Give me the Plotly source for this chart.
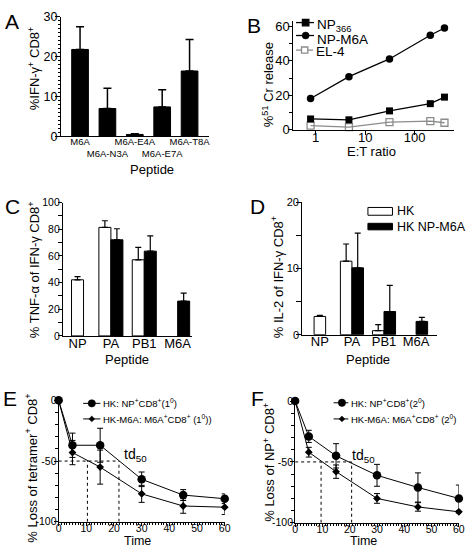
import plotly.graph_objects as go

W, H = 474, 558
FONT = "Liberation Sans, Arial, sans-serif"

# ---------------- data ----------------
A_peptides = ["M6A", "M6A-N3A", "M6A-E4A", "M6A-E7A", "M6A-T8A"]
A_ticktext = ["M6A", "<br>M6A-N3A", "M6A-E4A", "<br>M6A-E7A", "M6A-T8A"]
A_ifn = [21.8, 7.0, 0.5, 7.4, 16.4]
A_err = [5.7, 5.1, 0.2, 4.3, 7.9]

B_et = [0.79, 4.7, 31, 207, 400]
B_np366 = [6.2, 5.7, 10.9, 15.1, 18.9]
B_npm6a = [18.1, 30.8, 41.1, 54.9, 59.1]
B_el4 = [2.3, 1.5, 4.3, 4.9, 4.0]

C_peptides = ["NP", "PA", "PB1", "M6A"]
C_hk = [42.1, 81.4, 57.1, None]
C_hk_err = [2.4, 5.0, 9.3, None]
C_m6a = [None, 72.1, 63.6, 26.1]
C_m6a_err = [None, 8.3, 11.4, 6.0]

D_peptides = ["NP", "PA", "PB1", "M6A"]
D_hk = [2.75, 11.1, 0.6, None]
D_hk_err = [0.15, 2.6, 0.9, None]
D_m6a = [None, 10.1, 3.5, 2.0]
D_m6a_err = [None, 5.25, 3.95, 0.6]

E_time = [0, 5, 15, 30, 45, 60]
E_hk = [0, -37, -37, -65, -78, -81]
E_hk_err = [0, 10, 14, 6, 4.5, 4]
E_m6a = [0, -43, -55, -77, -87, -88]
E_m6a_err = [0, 10, 14, 7, 6, 6]
E_td50 = [10.4, 21.8]

F_time = [0, 5, 15, 30, 45, 60]
F_hk = [0, -29, -45, -61, -71, -80]
F_hk_err = [0, 5, 10, 9, 12, 11]
F_m6a = [0, -42, -58, -80, -87, -91]
F_m6a_err = [0, 4, 5.5, 4, 3.5, 1]
F_td50 = [9.5, 20.7]

HALF = -50

# ---------------- helpers ----------------
def xd(a, b):
    return [a / W, b / W]

def yd(top, bot):
    return [1 - bot / H, 1 - top / H]

def px(x):
    return x / W

def py(y):
    return 1 - y / H

fig = go.Figure()

# ---- Panel A ----
fig.add_trace(go.Bar(
    x=A_peptides, y=A_ifn, width=0.61, marker=dict(color="black", line=dict(color="black", width=1)),
    error_y=dict(type="data", array=A_err, arrayminus=[0] * len(A_err), symmetric=False,
                 color="black", thickness=1.5, width=4),
    xaxis="x", yaxis="y", showlegend=False))

# ---- Panel B ----
line_common = dict(mode="lines+markers", xaxis="x2", yaxis="y2", showlegend=False, cliponaxis=False)
fig.add_trace(go.Scatter(x=B_et, y=B_el4, line=dict(color="#8c8c8c", width=1.3),
                         marker=dict(symbol="square-open", size=7, color="#8c8c8c", line=dict(width=1.3)),
                         **line_common))
fig.add_trace(go.Scatter(x=B_et, y=B_np366, line=dict(color="black", width=1.3),
                         marker=dict(symbol="square", size=7, color="black"), **line_common))
fig.add_trace(go.Scatter(x=B_et, y=B_npm6a, line=dict(color="black", width=1.3),
                         marker=dict(symbol="circle", size=7.5, color="black"), **line_common))

# ---- Panels C & D (grouped bars) ----
def grouped(xax, yax, cats, hk, hk_err, m6a, m6a_err):
    hk_off = [-0.18 if v is not None and m is None else -0.36 for v, m in zip(hk, m6a)]
    fig.add_trace(go.Bar(
        x=cats, y=hk, width=0.36, offset=hk_off,
        marker=dict(color="white", line=dict(color="black", width=1)),
        error_y=dict(type="data", array=hk_err, arrayminus=[0] * len(cats), symmetric=False,
                     color="black", thickness=1.2, width=3),
        xaxis=xax, yaxis=yax, showlegend=False))
    fig.add_trace(go.Bar(
        x=cats, y=m6a, width=0.36, offset=0,
        marker=dict(color="black", line=dict(color="black", width=1)),
        error_y=dict(type="data", array=m6a_err, arrayminus=[0] * len(cats), symmetric=False,
                     color="black", thickness=1.2, width=3),
        xaxis=xax, yaxis=yax, showlegend=False))

grouped("x3", "y3", C_peptides, C_hk, C_hk_err, C_m6a, C_m6a_err)
grouped("x4", "y4", D_peptides, D_hk, D_hk_err, D_m6a, D_m6a_err)

# ---- Panels E & F (time courses) ----
def decay(xax, yax, t, hk, hk_err, m6a, m6a_err, td):
    fig.add_trace(go.Scatter(x=[0, max(td)], y=[HALF, HALF], mode="lines",
                             line=dict(color="black", width=1, dash="dot"),
                             xaxis=xax, yaxis=yax, showlegend=False, hoverinfo="skip"))
    for v in td:
        fig.add_trace(go.Scatter(x=[v, v], y=[-100, HALF], mode="lines",
                                 line=dict(color="black", width=1, dash="dot"),
                                 xaxis=xax, yaxis=yax, showlegend=False, hoverinfo="skip"))
    fig.add_trace(go.Scatter(x=t, y=m6a, mode="lines+markers",
                             line=dict(color="black", width=1),
                             marker=dict(symbol="diamond", size=6, color="black"),
                             error_y=dict(type="data", array=m6a_err, color="black", thickness=1, width=3),
                             xaxis=xax, yaxis=yax, showlegend=False, cliponaxis=False))
    fig.add_trace(go.Scatter(x=t, y=hk, mode="lines+markers",
                             line=dict(color="black", width=1),
                             marker=dict(symbol="circle", size=8.5, color="black"),
                             error_y=dict(type="data", array=hk_err, color="black", thickness=1, width=3),
                             xaxis=xax, yaxis=yax, showlegend=False, cliponaxis=False))

decay("x5", "y5", E_time, E_hk, E_hk_err, E_m6a, E_m6a_err, E_td50)
decay("x6", "y6", F_time, F_hk, F_hk_err, F_m6a, F_m6a_err, F_td50)

# ---------------- axes ----------------
base = dict(showline=True, linecolor="black", linewidth=1, showgrid=False, zeroline=False,
            ticks="outside", tickcolor="black", tickwidth=1, ticklen=4,
            tickfont=dict(family=FONT, color="black"))

def ax(**kw):
    d = dict(base)
    d.update(kw)
    return d

def tf(size):
    return dict(family=FONT, size=size, color="black")

layout = dict(
    width=W, height=H, margin=dict(l=0, r=0, t=0, b=0),
    paper_bgcolor="white", plot_bgcolor="white",
    font=dict(family=FONT, color="black"),
    barmode="overlay", showlegend=False,
    # A
    xaxis=ax(domain=xd(59, 210), anchor="y", range=[-0.7, 4.71], ticks="", tickangle=0,
             tickvals=A_peptides, ticktext=A_ticktext, tickfont=tf(9.5), ticklabelstandoff=-4),
    yaxis=ax(domain=yd(10, 133), anchor="x", range=[0, 30], tickvals=[0, 10, 20, 30], ticklen=5,
             tickfont=tf(12.5), ticklabelstandoff=-5,
             minor=dict(dtick=1, ticks="outside", ticklen=2, tickcolor="black")),
    # B
    xaxis2=ax(domain=xd(296, 460), anchor="y2", type="log", range=[-0.45, 2.8],
              tickvals=[1, 10, 100], ticktext=["1", "10", "100"], tickfont=tf(13), ticklabelstandoff=-8),
    yaxis2=ax(domain=yd(14, 126), anchor="x2", range=[0, 63.4], tickvals=[0, 20, 40, 60],
              tickfont=tf(13), ticklabelstandoff=-4,
              minor=dict(dtick=10, ticks="outside", ticklen=3, tickcolor="black")),
    # C
    xaxis3=ax(domain=xd(61, 193), anchor="y3", range=[-0.44, 3.44], ticks="", tickangle=0,
              tickfont=tf(13), ticklabelstandoff=-5),
    yaxis3=ax(domain=yd(201, 338), anchor="x3", range=[0, 100], tickvals=[0, 20, 40, 60, 80, 100],
              tickfont=tf(10.5), ticklabelstandoff=-4,
              minor=dict(dtick=10, ticks="outside", ticklen=4, tickcolor="black")),
    # D
    xaxis4=ax(domain=xd(305, 442), anchor="y4", range=[-0.55, 3.64], ticks="", tickangle=0,
              tickfont=tf(13), ticklabelstandoff=-5),
    yaxis4=ax(domain=yd(200.7, 336.7), anchor="x4", range=[0, 20], tickvals=[0, 10, 20], ticklen=5,
              tickfont=tf(11), ticklabelstandoff=-5,
              minor=dict(dtick=5, ticks="outside", ticklen=5, tickcolor="black")),
    # E
    xaxis5=ax(domain=xd(56.7, 226), anchor="y5", range=[0, 60], tickvals=list(range(0, 61, 10)),
              ticklen=3, tickfont=tf(10.5), ticklabelstandoff=-6, tickangle=0,
              minor=dict(dtick=1, ticks="outside", ticklen=2, tickcolor="black")),
    yaxis5=ax(domain=yd(404.2, 529), anchor="x5", range=[-100, 0], tickvals=[-100, -50, 0],
              ticktext=["-100", "-50", "0"], tickfont=tf(10.5), ticklabelstandoff=-5,
              minor=dict(dtick=10, ticks="outside", ticklen=3, tickcolor="black")),
    # F
    xaxis6=ax(domain=xd(297.8, 464.7), anchor="y6", range=[0, 60], tickvals=list(range(0, 61, 10)),
              ticklen=3, tickfont=tf(10.5), ticklabelstandoff=-6, tickangle=0,
              minor=dict(dtick=1, ticks="outside", ticklen=2, tickcolor="black")),
    yaxis6=ax(domain=yd(405, 530), anchor="x6", range=[-100, 0], tickvals=[-100, -50, 0],
              ticktext=["-100", "-50", "0"], tickfont=tf(10.5), ticklabelstandoff=-5,
              minor=dict(dtick=10, ticks="outside", ticklen=3, tickcolor="black")),
)
fig.update_layout(**layout)

# ---------------- text ----------------
ann = []

def text(x, y, s, size=13, angle=0, xanchor="center", yanchor="middle"):
    ann.append(dict(x=px(x), y=py(y), xref="paper", yref="paper", text=s, showarrow=False,
                    textangle=angle, xanchor=xanchor, yanchor=yanchor,
                    font=dict(family=FONT, size=size, color="black")))

for lab, x, y in [("A", 9.5, 15), ("B", 255.5, 18.5), ("C", 9.5, 205),
                  ("D", 259.5, 205.5), ("E", 7.5, 402.5), ("F", 259, 402.5)]:
    text(x, y, lab, size=21)

text(31, 62.5, "%IFN-γ<sup>+</sup> CD8<sup>+</sup>", 13, -90)
text(152, 167, "Peptide", 13)
text(269.5, 80, "%<sup>51</sup> Cr release", 13, -90)
text(376, 149, "E:T ratio", 13)
text(31, 270, "% TNF-α of IFN-γ CD8<sup>+</sup>", 13, -90)
text(126, 362, "Peptide", 13)
text(279, 278, "% IL-2 of IFN-γ CD8<sup>+</sup>", 13, -90)
text(372, 362, "Peptide", 13)
text(29, 474, "% Loss of tetramer<sup>+</sup> CD8<sup>+</sup>", 13, -90)
text(137, 548.5, "Time", 12.5)
text(271, 467.5, "% Loss of NP<sup>+</sup> CD8<sup>+</sup>", 13, -90)
text(367, 548.5, "Time", 12.5)

ann.append(dict(x=27.8, y=-45.4, xref="x5", yref="y5", text="td<sub>50</sub>", showarrow=False,
                font=dict(family=FONT, size=14, color="black")))
ann.append(dict(x=25.2, y=-44.8, xref="x6", yref="y6", text="td<sub>50</sub>", showarrow=False,
                font=dict(family=FONT, size=14, color="black")))

# ---------------- legends (drawn) ----------------
shapes = []

def leg_line(x0, x1, y, color="black", w=1.3):
    shapes.append(dict(type="line", xref="paper", yref="paper", x0=px(x0), x1=px(x1), y0=py(y), y1=py(y),
                       line=dict(color=color, width=w)))

def leg_square(cx, cy, r, fill, color="black"):
    shapes.append(dict(type="rect", xref="paper", yref="paper", x0=px(cx - r), x1=px(cx + r),
                       y0=py(cy + r), y1=py(cy - r), fillcolor=fill, line=dict(color=color, width=1.3)))

def leg_circle(cx, cy, r):
    shapes.append(dict(type="circle", xref="paper", yref="paper", x0=px(cx - r), x1=px(cx + r),
                       y0=py(cy + r), y1=py(cy - r), fillcolor="black", line=dict(color="black", width=0.5)))

def leg_diamond(cx, cy, r):
    pts = [(cx, cy - r), (cx + r, cy), (cx, cy + r), (cx - r, cy)]
    path = "M " + " L ".join(f"{px(a):.5f},{py(b):.5f}" for a, b in pts) + " Z"
    shapes.append(dict(type="path", xref="paper", yref="paper", path=path, fillcolor="black",
                       line=dict(color="black", width=0.5)))

# B legend
leg_line(298.7, 317, 16); leg_square(308.5, 16, 3.3, "black")
text(318.5, 19, "NP<sub>366</sub>", 13.5, xanchor="left")
leg_line(298.7, 317, 29.3); leg_circle(308.5, 29.3, 3.6)
text(318.5, 33, "NP-M6A", 13.5, xanchor="left")
leg_line(298.7, 316, 44.3, color="#8c8c8c"); leg_square(307.5, 44.3, 3.2, "white", "#8c8c8c")
text(317, 45.5, "EL-4", 13.5, xanchor="left")

# D legend
shapes.append(dict(type="rect", xref="paper", yref="paper", x0=px(372), x1=px(397), y0=py(214), y1=py(206),
                   fillcolor="white", line=dict(color="black", width=1)))
shapes.append(dict(type="rect", xref="paper", yref="paper", x0=px(372), x1=px(397), y0=py(229), y1=py(222.3),
                   fillcolor="black", line=dict(color="black", width=1)))
text(399.5, 210, "HK", 12.5, xanchor="left")
text(399.5, 225.7, "HK NP-M6A", 12.5, xanchor="left")

# E legend
leg_line(81.7, 99.3, 407.3, w=1); leg_circle(90.5, 407.3, 3.8)
text(100, 407.3, "HK: NP<sup>+</sup>CD8<sup>+</sup>(1<sup>0</sup>)", 9.5, xanchor="left")
leg_line(81.7, 99.3, 423.3, w=1); leg_diamond(90.5, 423.3, 3)
text(100, 423.3, "HK-M6A: M6A<sup>+</sup>CD8<sup>+</sup> (1<sup>0</sup>))", 9.5, xanchor="left")

# F legend
leg_line(337, 352, 406.7, w=1); leg_circle(345.5, 406.7, 3.8)
text(352.5, 406.7, "HK: NP<sup>+</sup>CD8<sup>+</sup>(2<sup>0</sup>)", 9.5, xanchor="left")
leg_line(337, 352, 423.3, w=1); leg_diamond(345.5, 423.3, 3)
text(352.5, 423.3, "HK-M6A: M6A<sup>+</sup>CD8<sup>+</sup> (2<sup>0</sup>)", 9.5, xanchor="left")

fig.update_layout(annotations=ann, shapes=shapes)
fig.write_html("out.html", config={"displayModeBar": False},
               post_script="document.body.style.margin='0';document.body.style.padding='0';"
                           "document.documentElement.style.overflow='hidden';")
